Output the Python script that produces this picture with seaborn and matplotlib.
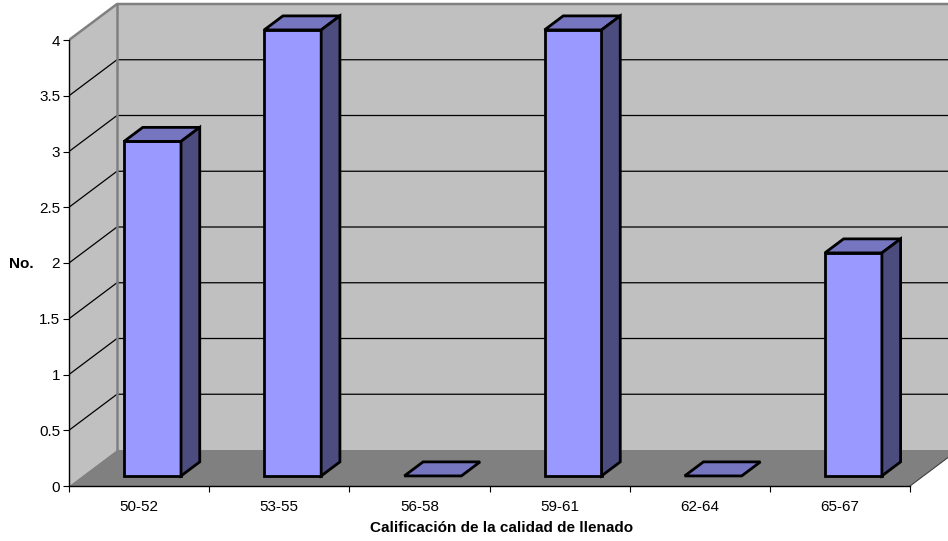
import matplotlib
matplotlib.use("Agg")
import matplotlib.pyplot as plt
from matplotlib.patches import Polygon
import seaborn as sns

# Data
categories = ["50-52", "53-55", "56-58", "59-61", "62-64", "65-67"]
counts = [3, 4, 0, 4, 0, 2]
y_ticks = [0, 0.5, 1, 1.5, 2, 2.5, 3, 3.5, 4]
y_tick_labels = ["0", "0.5", "1", "1.5", "2", "2.5", "3", "3.5", "4"]
x_title = "Calificación de la calidad de llenado"
y_title = "No."

sns.set_theme(style="white")
plt.rcParams["font.family"] = ["Liberation Sans", "DejaVu Sans"]

W, H = 948, 541
PX_PER_CAT, PX_PER_VAL = 140.17, 111.5
AX_LEFT, AX_BOTTOM = 69, 486
FS = 11

fig = plt.figure(figsize=(W / 100, H / 100), dpi=100)
ax = fig.add_axes([AX_LEFT / W, (H - AX_BOTTOM) / H, (W - AX_LEFT) / W, AX_BOTTOM / H])

# Oblique depth projection (data units for a full unit of depth)
DX, DY = 48 / PX_PER_CAT, 36 / PX_PER_VAL
Z0, Z1 = 0.28, 0.67          # bar depth span
BAR_W = 57 / PX_PER_CAT

FRONT, TOP, SIDE = "#9999FF", "#7676C0", "#4C4C7E"
WALL, FLOOR, BORDER = "#C0C0C0", "#808080", "#808080"

# Front faces of the bars
sns.barplot(x=categories, y=counts, color=FRONT, saturation=1, width=BAR_W,
            edgecolor="black", linewidth=2.0, ax=ax, zorder=6)
bars = list(ax.patches)

x_min, x_max = -0.5, len(categories) - 0.5
y_top = max(y_ticks)

# Walls and floor
ax.add_patch(Polygon([(x_min, 0), (x_min + DX, DY), (x_min + DX, y_top + DY), (x_min, y_top)],
                     closed=True, facecolor=WALL, edgecolor="none", zorder=1))
ax.add_patch(Polygon([(x_min + DX, DY), (x_max + DX, DY), (x_max + DX, y_top + DY), (x_min + DX, y_top + DY)],
                     closed=True, facecolor=WALL, edgecolor="none", zorder=1))
ax.add_patch(Polygon([(x_min, 0), (x_max, 0), (x_max + DX, DY), (x_min + DX, DY)],
                     closed=True, facecolor=FLOOR, edgecolor="none", zorder=1.5))

# Gridlines on the side and back walls
for v in y_ticks[1:-1]:
    ax.plot([x_min, x_min + DX, x_max + DX], [v, v + DY, v + DY], color="black", lw=0.9, zorder=2)

# Wall borders
ax.plot([x_min, x_min + DX, x_max + DX], [y_top, y_top + DY, y_top + DY], color=BORDER, lw=1.8, zorder=2.2,
        solid_capstyle="projecting")
ax.plot([x_min + DX, x_min + DX], [DY, y_top + DY], color=BORDER, lw=1.8, zorder=2.2)
ax.plot([x_max, x_max + DX], [0, DY], color="#404040", lw=0.8, zorder=2.2)

# Shift bars into depth and add top and side faces
ddx, ddy = (Z1 - Z0) * DX, (Z1 - Z0) * DY
for p in bars:
    x0 = p.get_x() + Z0 * DX
    y0 = Z0 * DY
    w = p.get_width()
    h = p.get_height()
    p.set_x(x0)
    p.set_y(y0)
    p.set_joinstyle("miter")
    top = [(x0, y0 + h), (x0 + w, y0 + h), (x0 + w + ddx, y0 + h + ddy), (x0 + ddx, y0 + h + ddy)]
    ax.add_patch(Polygon(top, closed=True, facecolor=TOP, edgecolor="black", lw=2.0,
                         joinstyle="miter", zorder=6.5))
    if h > 0:
        side = [(x0 + w, y0), (x0 + w + ddx, y0 + ddy), (x0 + w + ddx, y0 + h + ddy), (x0 + w, y0 + h)]
        ax.add_patch(Polygon(side, closed=True, facecolor=SIDE, edgecolor="black", lw=2.0,
                             joinstyle="miter", zorder=6.5))
    else:
        p.set_visible(False)

ax.set_xlim(x_min, x_min + (W - AX_LEFT) / PX_PER_CAT)
ax.set_ylim(0, AX_BOTTOM / PX_PER_VAL)

# Axes lines and ticks
for s in ["top", "right"]:
    ax.spines[s].set_visible(False)
ax.spines["left"].set_bounds(0, y_top)
ax.spines["bottom"].set_bounds(x_min, x_max)
for s in ["left", "bottom"]:
    ax.spines[s].set_color("black")
    ax.spines[s].set_linewidth(1.0)
    ax.spines[s].set_zorder(3)

ax.set_xticks([x_min + i for i in range(len(categories) + 1)])
ax.set_xticklabels([])
ax.set_xticks(range(len(categories)), minor=True)
ax.set_xticklabels(categories, minor=True)
ax.set_yticks(y_ticks)
ax.set_yticklabels(y_tick_labels)
ax.tick_params(axis="x", which="major", bottom=True, length=4.3, width=0.8, color="black", direction="out")
ax.tick_params(axis="x", which="minor", bottom=True, length=0, pad=10, labelsize=FS, labelcolor="black")
ax.tick_params(axis="y", left=True, length=4.3, width=0.8, color="black", direction="out",
               pad=2.0, labelsize=FS, labelcolor="black")
ax.grid(False)

ax.set_xlabel(x_title, fontsize=FS, fontweight="bold", color="black")
ax.xaxis.set_label_coords((502 - AX_LEFT) / (W - AX_LEFT), -(528.5 - AX_BOTTOM) / AX_BOTTOM)
ax.xaxis.label.set_va("center")
ax.set_ylabel(y_title, fontsize=FS, fontweight="bold", color="black", rotation=0, ha="center", va="center")
ax.yaxis.set_label_coords(-(AX_LEFT - 21) / (W - AX_LEFT), (AX_BOTTOM - 263.5) / AX_BOTTOM)

ax.set_facecolor("white")
fig.patch.set_facecolor("white")
fig.savefig("out.png", dpi=100, facecolor="white")
